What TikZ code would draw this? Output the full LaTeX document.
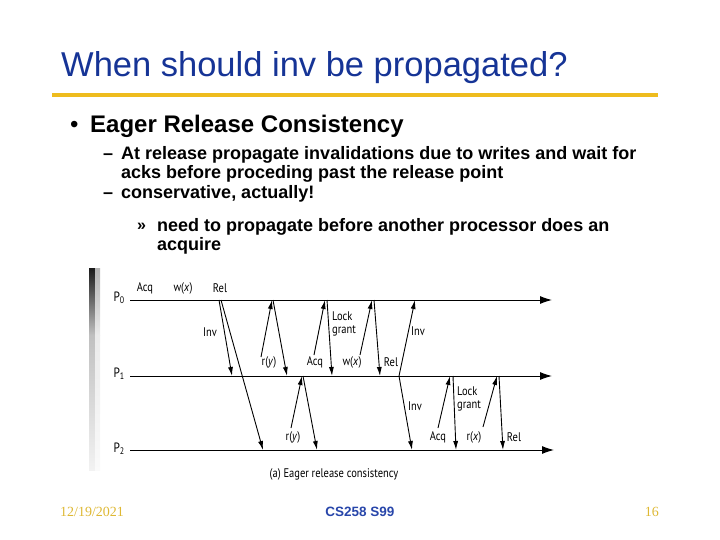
\documentclass[tikz,border=0pt]{standalone}
\usepackage{fontspec}
\setmainfont{Liberation Sans}
\newfontfamily\diagfont[FakeStretch=0.84]{PT Sans}
\newfontfamily\footserif{Liberation Serif}
\usetikzlibrary{arrows.meta}
\definecolor{titleblue}{RGB}{22,52,150}
\definecolor{footblue}{RGB}{40,70,170}
\definecolor{gold}{RGB}{238,188,30}
\definecolor{footgold}{RGB}{222,184,52}
\tikzset{
  msg/.style={line width=0.9pt,-{Latex[length=9pt,width=5pt]}},
  timeline/.style={line width=1pt,-{Latex[length=12pt,width=8pt]}},
  lbl/.style={font=\diagfont\fontsize{12.5}{13.5}\selectfont,inner sep=0pt},
  plbl/.style={font=\diagfont\fontsize{13.5}{14}\selectfont,inner sep=0pt,anchor=east},
  sub/.style={font=\bfseries\fontsize{18}{20}\selectfont,inner sep=0pt,anchor=base west},
}
\begin{document}
\begin{tikzpicture}[x=1pt,y=-1pt]
\useasboundingbox (0,0) rectangle (720,540);
% title
\node[font=\fontsize{34.5}{36}\selectfont,text=titleblue,inner sep=0pt,anchor=base west] (title) at (61,77) {When should inv be propagated?};
\draw[gold,line width=4pt] (52,95) -- (658,95);
% bullets
\node[font=\fontsize{24}{26}\selectfont,inner sep=0pt,anchor=base west] (b1) at (70,133) {\textbullet};
\node[font=\bfseries\fontsize{24}{26}\selectfont,inner sep=0pt,anchor=base west] (t1) at (90,133) {Eager Release Consistency};
\node[sub] (d1) at (103,160) {--};
\node[sub] (t2) at (121,160) {At release propagate invalidations due to writes and wait for};
\node[sub] (t3) at (121,179) {acks before proceding past the release point};
\node[sub] (d2) at (103,199) {--};
\node[sub] (t4) at (121,199) {conservative, actually!};
\node[sub,font=\bfseries\fontsize{16}{18}\selectfont] (d3) at (137,230) {\guillemotright};
\node[sub] (t5) at (157,231) {need to propagate before another processor does an};
\node[sub] (t6) at (157,250) {acquire};
% scanned margin
\shade[top color=black!90,bottom color=black!25] (89,268) rectangle (95,335);
\shade[top color=black!25,bottom color=black!5] (89,335) rectangle (95,470);
\shade[top color=black!30,bottom color=black!8] (95,268) rectangle (100,335);
\shade[top color=black!8,bottom color=black!2] (95,335) rectangle (100,470);
% timelines
\coordinate (p0s) at (130,300); \coordinate (p0e) at (552,300);
\coordinate (p1s) at (130,376); \coordinate (p1e) at (552,376);
\coordinate (p2s) at (130,450); \coordinate (p2e) at (554,450);
\draw[timeline] (p0s) -- (p0e);
\draw[timeline] (p1s) -- (p1e);
\draw[timeline] (p2s) -- (p2e);
\node[plbl] (P0) at (125,298) {P\textsubscript{0}};
\node[plbl] (P1) at (125,374) {P\textsubscript{1}};
\node[plbl] (P2) at (125,449) {P\textsubscript{2}};
% top labels
\node[lbl] (acq0) at (145,288) {Acq};
\node[lbl] (w0) at (183,288) {w(\textit{x})};
\node[lbl] (rel0) at (220,288) {Rel};
% message points
\coordinate (a1s) at (219,300); \coordinate (a1e) at (232,376);
\coordinate (a2s) at (221,300); \coordinate (a2e) at (263,450);
\coordinate (a3s) at (261,357); \coordinate (a3e) at (272,300);
\coordinate (a4s) at (273,300); \coordinate (a4e) at (287,376);
\coordinate (a5s) at (314,355); \coordinate (a5e) at (325,300);
\coordinate (a6s) at (327,300); \coordinate (a6e) at (332,376);
\coordinate (a7s) at (360,355); \coordinate (a7e) at (372,300);
\coordinate (a8s) at (374,300); \coordinate (a8e) at (380,376);
\coordinate (a9s) at (399,376); \coordinate (a9e) at (415,300);
\coordinate (b1s) at (291,428); \coordinate (b1e) at (302,376);
\coordinate (b2s) at (303,376); \coordinate (b2e) at (317,450);
\coordinate (b3s) at (399,376); \coordinate (b3e) at (412,450);
\coordinate (b4s) at (438,428); \coordinate (b4e) at (450,376);
\coordinate (b5s) at (453,376); \coordinate (b5e) at (456,450);
\coordinate (b6s) at (483,427); \coordinate (b6e) at (497,376);
\coordinate (b7s) at (499,376); \coordinate (b7e) at (503,450);
\foreach \m in {a1,a2,a3,a4,a5,a6,a7,a8,a9,b1,b2,b3,b4,b5,b6,b7}
  \draw[msg] (\m s) -- (\m e);
% message labels
\node[lbl] (linv1) at (210,332) {Inv};
\node[lbl] (lry1) at (269,362) {r(\textit{y})};
\node[lbl] (lacq1) at (315,362) {Acq};
\node[lbl,anchor=west,align=left] (llg1) at (332,324) {Lock\\grant};
\node[lbl] (lwx1) at (352,362) {w(\textit{x})};
\node[lbl] (lrel1) at (391,362) {Rel};
\node[lbl] (linv2) at (418,331) {Inv};
\node[lbl] (lry2) at (293,437) {r(\textit{y})};
\node[lbl] (linv3) at (415,406) {Inv};
\node[lbl] (lacq2) at (438,437) {Acq};
\node[lbl,anchor=west,align=left] (llg2) at (457,399) {Lock\\grant};
\node[lbl] (lrx) at (474,437) {r(\textit{x})};
\node[lbl] (lrel2) at (514,437) {Rel};
\node[lbl] (cap) at (334,474) {(a) Eager release consistency};
% footer
\node[font=\footserif\fontsize{14}{16}\selectfont,text=footgold,inner sep=0pt,anchor=base west] (date) at (60,516) {12/19/2021};
\node[font=\bfseries\fontsize{13.5}{16}\selectfont,text=footblue,inner sep=0pt,anchor=base] (course) at (360,516) {CS258 S99};
\node[font=\footserif\fontsize{14}{16}\selectfont,text=footgold,inner sep=0pt,anchor=base east] (page) at (659,516) {16};
\end{tikzpicture}
\end{document}
